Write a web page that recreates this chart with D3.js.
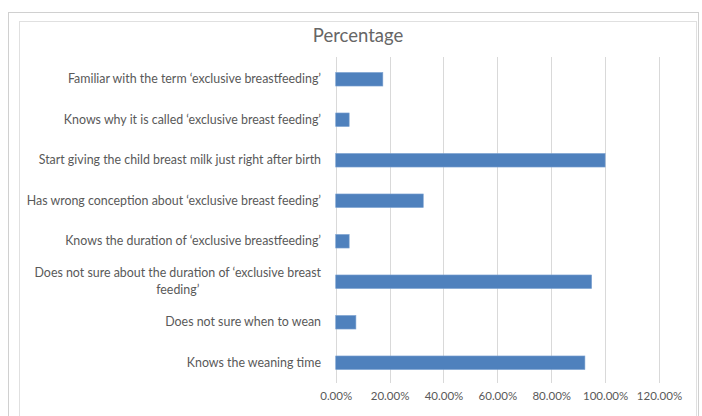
<!DOCTYPE html>
<html>
<head>
<meta charset="utf-8">
<script src="https://cdn.jsdelivr.net/npm/d3@7"></script>
<style>
  html, body { margin: 0; padding: 0; background: #ffffff; }
  svg { display: block; }
</style>
</head>
<body>
<svg id="chart" width="702" height="416"></svg>
<script>
// Survey items (top to bottom) and share of respondents
const categories = [
  "Familiar with the term \u2018exclusive breastfeeding\u2019",
  "Knows why it is called \u2018exclusive breast feeding\u2019",
  "Start giving the child breast milk just right after birth",
  "Has wrong conception about \u2018exclusive breast feeding\u2019",
  "Knows the duration of \u2018exclusive breastfeeding\u2019",
  "Does not sure about the duration of \u2018exclusive breast|feeding\u2019",
  "Does not sure when to wean",
  "Knows the weaning time"
];
const percentages = [17.5, 5, 100, 32.5, 5, 95, 7.5, 92.5];
const xTicks = [0, 20, 40, 60, 80, 100, 120];
const chartTitle = "Percentage";

const svg = d3.select("#chart");
const font = "Lato, 'Open Sans', sans-serif";
const textColor = "#595959";

// Frames around the chart
svg.append("rect").attr("x", 8.5).attr("y", 12.5).attr("width", 690).attr("height", 420)
  .attr("fill", "none").attr("stroke", "#d0d0d0");
svg.append("rect").attr("x", 19.5).attr("y", 21.5).attr("width", 677).attr("height", 420)
  .attr("fill", "none").attr("stroke", "#e0e0e0");

const plot = { left: 335.7, right: 659, top: 59, bottom: 383 };

const x = d3.scaleLinear().domain([0, 120]).range([plot.left, plot.right]);
const y = d3.scaleBand().domain(d3.range(categories.length))
  .range([plot.top, plot.bottom]).paddingInner(0.665).paddingOuter(0.3325);

// Title
svg.append("text")
  .attr("x", 358).attr("y", 42)
  .attr("text-anchor", "middle")
  .attr("font-family", font).attr("font-size", 18.5)
  .attr("fill", "#666666")
  .text(chartTitle);

// Vertical gridlines (the first one doubles as the category axis line)
svg.append("g").selectAll("line").data(xTicks).join("line")
  .attr("x1", d => Math.round(x(d)) + 0.5).attr("x2", d => Math.round(x(d)) + 0.5)
  .attr("y1", plot.top - 2).attr("y2", plot.bottom)
  .attr("stroke", "#d9d9d9").attr("stroke-width", 1);

// X axis tick labels
const xAxis = d3.axisBottom(x).tickValues(xTicks)
  .tickFormat(d => d.toFixed(2) + "%").tickSize(0).tickPadding(0);
const gx = svg.append("g").attr("transform", `translate(0,${plot.bottom + 9})`).call(xAxis);
gx.select(".domain").remove();
gx.selectAll("text")
  .attr("font-family", font).attr("font-size", 11.5)
  .attr("fill", textColor).attr("dy", "0.71em");

// Bars
svg.append("g").selectAll("rect").data(percentages).join("rect")
  .attr("x", x(0))
  .attr("y", (d, i) => y(i))
  .attr("width", d => x(d) - x(0))
  .attr("height", y.bandwidth())
  .attr("fill", "#4f81bd")
  .attr("stroke", "#7da3d1").attr("stroke-width", 0.6);

// Category labels (right-aligned; wrapped lines centred under the first)
const labelSize = 12.4;
const labelG = svg.append("g");
categories.forEach((c, i) => {
  const lines = c.split("|");
  const cy = y(i) + y.bandwidth() / 2;
  const lineH = 16.6;
  const first = labelG.append("text")
    .attr("x", 321)
    .attr("y", cy - (lines.length - 1) * lineH / 2 + 4)
    .attr("text-anchor", "end")
    .attr("font-family", font).attr("font-size", labelSize)
    .attr("fill", textColor)
    .text(lines[0]);
  if (lines.length > 1) {
    const w = first.node().getComputedTextLength();
    lines.slice(1).forEach((ln, k) => {
      labelG.append("text")
        .attr("x", 321 - w / 2)
        .attr("y", +first.attr("y") + lineH * (k + 1))
        .attr("text-anchor", "middle")
        .attr("font-family", font).attr("font-size", labelSize)
        .attr("fill", textColor)
        .text(ln);
    });
  }
});
</script>
</body>
</html>
